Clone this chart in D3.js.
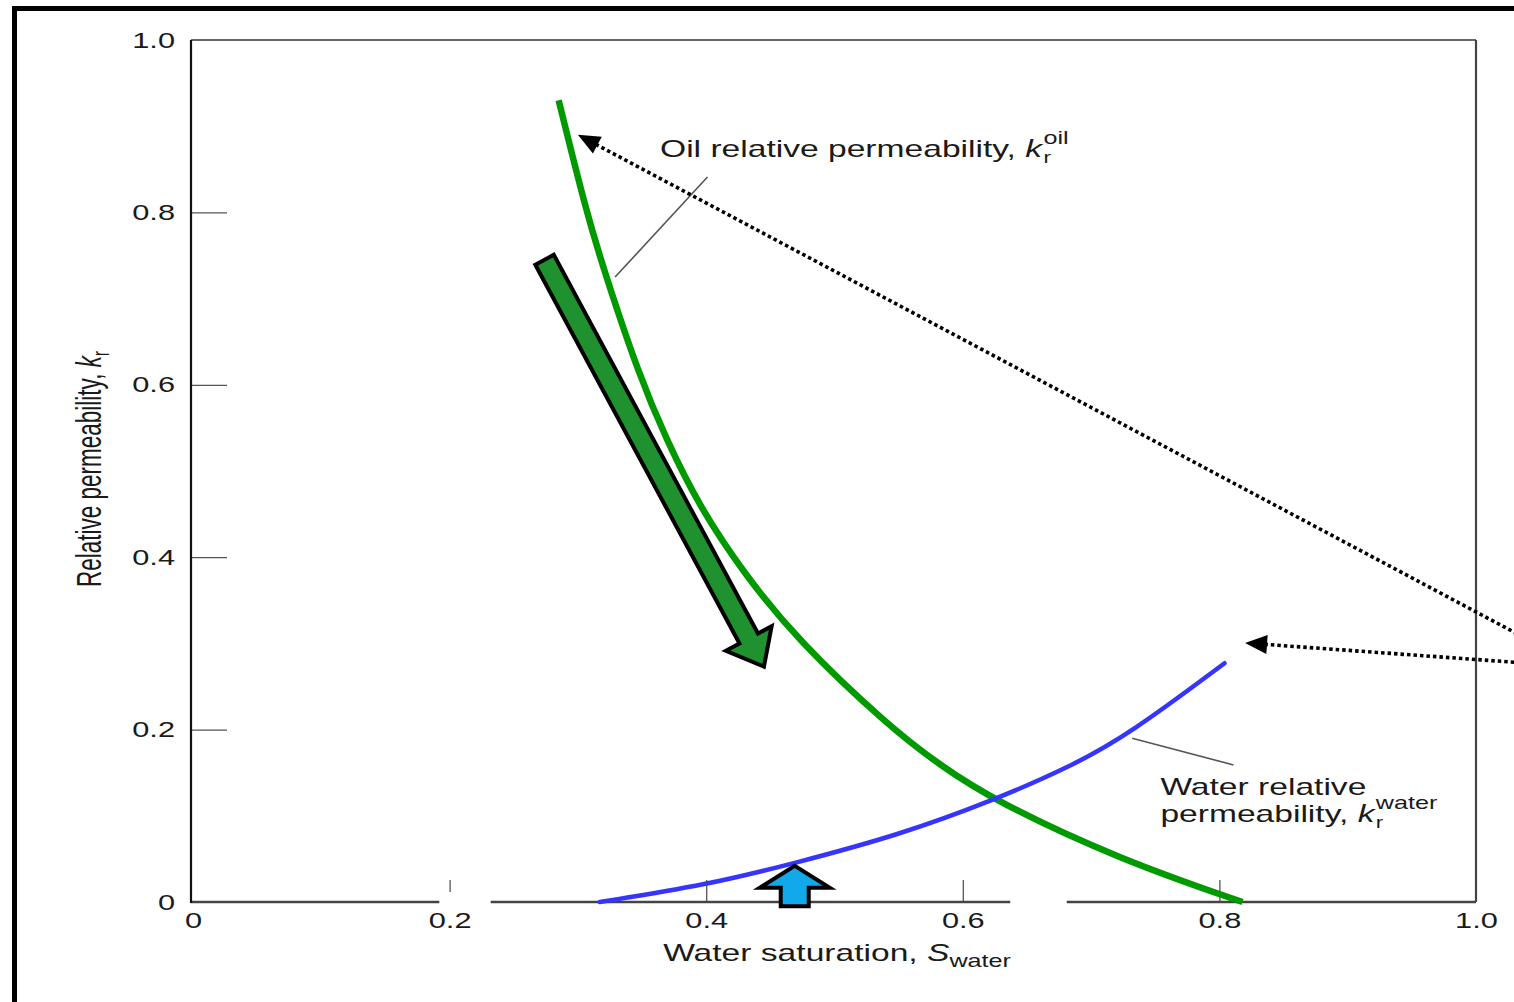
<!DOCTYPE html>
<html>
<head>
<meta charset="utf-8">
<script src="https://cdn.jsdelivr.net/npm/d3@7"></script>
<style>
body{margin:0;background:#fff;}
svg{display:block;font-family:"Liberation Sans",Arial,Helvetica,sans-serif;}
</style>
</head>
<body>
<svg id="chart" width="1514" height="1002"></svg>
<script>
// values (water saturation vs relative permeability)
const oilSw   = [0.285, 0.307, 0.321, 0.347, 0.369, 0.395, 0.429, 0.471, 0.543, 0.582, 0.624, 0.723, 0.818];
const oilKr   = [0.930, 0.798, 0.730, 0.614, 0.536, 0.458, 0.382, 0.304, 0.203, 0.159, 0.118, 0.049, 0.000];
const waterSw = [0.317, 0.401, 0.469, 0.551, 0.624, 0.684, 0.730, 0.804];
const waterKr = [0.000, 0.020, 0.045, 0.078, 0.118, 0.157, 0.195, 0.277];

const xTicks = [0, 0.2, 0.4, 0.6, 0.8, 1.0];
const yTicks = [0, 0.2, 0.4, 0.6, 0.8, 1.0];
const tickLabels = ["0", "0.2", "0.4", "0.6", "0.8", "1.0"];

// annotations, in data units
const oilPointer   = [[0.329, 0.725], [0.401, 0.841]];
const waterPointer = [[0.732, 0.190], [0.811, 0.159]];
const oilLabelAt   = [0.364, 0.864];
const waterLabelAt = [0.754, 0.124];
const downArrow    = [[0.274, 0.745], [0.445, 0.273]]; // tail, tip
const upArrow      = [[0.469, -0.005], [0.469, 0.042]];
const dotArrowOil   = [[1.05, 0.297], [0.300, 0.890]];
const dotArrowWater = [[1.05, 0.276], [0.820, 0.3005]];
const axisGaps = [[0.192, 0.232], [0.637, 0.681]]; // erased bits of the bottom line

const W = 1514, H = 1002;
const SX = 1.4; // the whole figure is stretched sideways, text too
const ink = "#1a1a1a";

const svg = d3.select("#chart");
const x = d3.scaleLinear().domain([0, 1]).range([193, 1476]);
const y = d3.scaleLinear().domain([0, 1]).range([902, 40]);

// outer black frame (right and bottom run off the page)
svg.append("rect")
  .attr("x", 14.5).attr("y", 8.5)
  .attr("width", W + 40).attr("height", H + 40)
  .attr("fill", "none").attr("stroke", "#000").attr("stroke-width", 5);

function fmt(d){ return tickLabels[xTicks.indexOf(d)]; }
const inner = d => d > 0 && d < 1;

// y axis: ticks point inward, labels outside
const yAxis = d3.axisLeft(y).tickValues(yTicks).tickFormat(fmt)
  .tickSizeInner(-36).tickSizeOuter(0).tickPadding(16);
const gy = svg.append("g")
  .attr("transform", `translate(${x(0) - 2},0)`)
  .call(yAxis)
  .attr("font-family", null).attr("font-size", 22);
gy.select(".domain").remove();
gy.selectAll(".tick line").attr("stroke", "#555").attr("stroke-width", 1.3)
  .filter(d => !inner(d)).remove();
gy.selectAll(".tick text").attr("fill", ink)
  .attr("x", -16 / SX).attr("transform", `scale(${SX},1)`);

// x axis
const xAxis = d3.axisBottom(x).tickValues(xTicks).tickFormat(fmt)
  .tickSizeInner(-22).tickSizeOuter(0).tickPadding(10);
const gx = svg.append("g")
  .attr("transform", `translate(0,${y(0)})`)
  .call(xAxis)
  .attr("font-family", null).attr("font-size", 22);
gx.select(".domain").remove();
gx.selectAll(".tick line").attr("stroke", "#555").attr("stroke-width", 1.3)
  .filter(d => !inner(d)).remove();
gx.selectAll(".tick text").attr("fill", ink).attr("transform", `scale(${SX},1)`);

// plot box
const box = svg.append("g");
box.append("line").attr("x1", x(0) - 2).attr("x2", x(1)).attr("y1", y(1)).attr("y2", y(1))
  .attr("stroke", "#333").attr("stroke-width", 1.5);
box.append("line").attr("x1", x(1)).attr("x2", x(1)).attr("y1", y(1)).attr("y2", y(0))
  .attr("stroke", "#444").attr("stroke-width", 2.2);
box.append("line").attr("x1", x(0) - 2).attr("x2", x(1)).attr("y1", y(0)).attr("y2", y(0))
  .attr("stroke", "#444").attr("stroke-width", 2.6);
box.append("line").attr("x1", x(0) - 2).attr("x2", x(0) - 2).attr("y1", y(1)).attr("y2", y(0) + 1)
  .attr("stroke", "#111").attr("stroke-width", 2.2);

// white gaps on the bottom line
svg.selectAll("rect.gap").data(axisGaps).join("rect")
  .attr("class", "gap")
  .attr("x", d => x(d[0])).attr("width", d => x(d[1]) - x(d[0]))
  .attr("y", y(0) - 10).attr("height", 14)
  .attr("fill", "#fff");

// curves (B-spline through the read points, evens out reading noise)
const line = d3.line().x(d => x(d[0])).y(d => y(d[1])).curve(d3.curveBasis);
svg.append("path").datum(d3.zip(oilSw, oilKr))
  .attr("d", line).attr("fill", "none")
  .attr("stroke", "#009a00").attr("stroke-width", 6.5);
svg.append("path").datum(d3.zip(waterSw, waterKr))
  .attr("d", line).attr("fill", "none")
  .attr("stroke", "#3535ff").attr("stroke-width", 4.5).attr("stroke-linecap", "round");

// label pointers
[oilPointer, waterPointer].forEach(p => {
  svg.append("line")
    .attr("x1", x(p[0][0])).attr("y1", y(p[0][1]))
    .attr("x2", x(p[1][0])).attr("y2", y(p[1][1]))
    .attr("stroke", "#555").attr("stroke-width", 1.6);
});

// block arrow outline, tail -> tip in pixels
function blockArrow(x0, y0, x1, y1, sw, hw, hl){
  const dx = x1 - x0, dy = y1 - y0, L = Math.hypot(dx, dy);
  const ux = dx / L, uy = dy / L, nx = -uy, ny = ux;
  const bx = x1 - ux * hl, by = y1 - uy * hl;
  return [
    [x0 + nx * sw / 2, y0 + ny * sw / 2],
    [bx + nx * sw / 2, by + ny * sw / 2],
    [bx + nx * hw / 2, by + ny * hw / 2],
    [x1, y1],
    [bx - nx * hw / 2, by - ny * hw / 2],
    [bx - nx * sw / 2, by - ny * sw / 2],
    [x0 - nx * sw / 2, y0 - ny * sw / 2]
  ];
}

svg.append("polygon")
  .attr("points", blockArrow(x(downArrow[0][0]), y(downArrow[0][1]), x(downArrow[1][0]), y(downArrow[1][1]), 21, 52, 32).join(" "))
  .attr("fill", "#1f922f").attr("stroke", "#000").attr("stroke-width", 4).attr("stroke-linejoin", "miter");

svg.append("polygon")
  .attr("points", blockArrow(x(upArrow[0][0]), y(upArrow[0][1]), x(upArrow[1][0]), y(upArrow[1][1]), 28, 70, 22).join(" "))
  .attr("fill", "#12a9ec").attr("stroke", "#000").attr("stroke-width", 4).attr("stroke-linejoin", "miter");

// dotted arrows coming in from the right edge
function dottedArrow(a){
  const x0 = x(a[0][0]), y0 = y(a[0][1]), x1 = x(a[1][0]), y1 = y(a[1][1]);
  const dx = x1 - x0, dy = y1 - y0, L = Math.hypot(dx, dy);
  const ux = dx / L, uy = dy / L, nx = -uy, ny = ux;
  const hl = 22, hw = 19;
  const bx = x1 - ux * hl, by = y1 - uy * hl;
  svg.append("line")
    .attr("x1", x0).attr("y1", y0).attr("x2", bx + ux * 2).attr("y2", by + uy * 2)
    .attr("stroke", "#000").attr("stroke-width", 3.6).attr("stroke-dasharray", "3.5,3");
  svg.append("polygon")
    .attr("points", [[x1, y1], [bx + nx * hw / 2, by + ny * hw / 2], [bx - nx * hw / 2, by - ny * hw / 2]].join(" "))
    .attr("fill", "#000");
}
dottedArrow(dotArrowOil);
dottedArrow(dotArrowWater);

// text helpers
function stretched(px, py, sx, rotate){
  return svg.append("g")
    .attr("transform", `translate(${px},${py}) scale(${sx},1)` + (rotate ? ` rotate(${rotate})` : ""))
    .attr("fill", ink);
}

// k with r below and a word above, all in one text element
function kSubSup(t, sup, supSize){
  t.append("tspan").attr("font-style", "italic").text("k");
  const r = t.append("tspan").attr("font-size", 16).attr("dx", 1).attr("dy", 6).text("r");
  const rw = r.node().getComputedTextLength();
  t.append("tspan").attr("font-size", supSize).attr("dx", -rw).attr("dy", -19).text(sup);
}

// oil label
{
  const g = stretched(x(oilLabelAt[0]), y(oilLabelAt[1]), SX);
  const t = g.append("text").attr("font-size", 24);
  t.append("tspan").text("Oil relative permeability, ");
  kSubSup(t, "oil", 18);
}

// water label
{
  const g = stretched(x(waterLabelAt[0]), y(waterLabelAt[1]), SX);
  g.append("text").attr("font-size", 24).text("Water relative");
  const t = g.append("text").attr("y", 27).attr("font-size", 24);
  t.append("tspan").text("permeability, ");
  kSubSup(t, "water", 18);
}

// x title
{
  const g = stretched(x(0.502), 961, SX);
  const t = g.append("text").attr("font-size", 24).attr("text-anchor", "middle");
  t.append("tspan").text("Water saturation, ");
  t.append("tspan").attr("font-style", "italic").text("S");
  t.append("tspan").attr("font-size", 18).attr("dy", 6).text("water");
}

// y title
{
  const g = stretched(101, 469, 1.55, -90);
  const t = g.append("text").attr("font-size", 22.5).attr("text-anchor", "middle");
  t.append("tspan").text("Relative permeability, ");
  t.append("tspan").attr("font-style", "italic").text("k");
  t.append("tspan").attr("font-size", 15).attr("dy", 5).text("r");
}
</script>
</body>
</html>
